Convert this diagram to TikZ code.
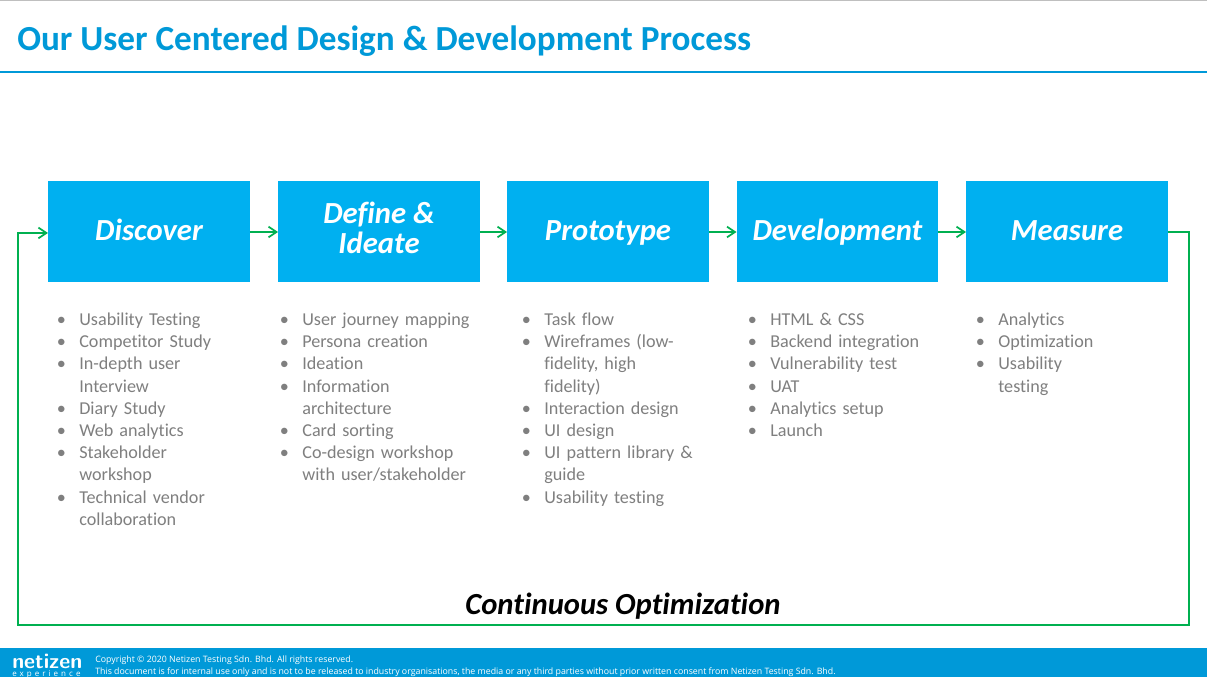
\documentclass[tikz,border=0pt]{standalone}
\usepackage{fontspec}
\setmainfont[Ligatures=NoCommon]{Carlito}
\newfontfamily\handfont[Ligatures=NoCommon]{Carlito}
\newfontfamily\smallfont{Open Sans}
\newfontfamily\spacedfont[LetterSpace=38]{Open Sans}
\usetikzlibrary{arrows.meta}
\definecolor{titleblue}{HTML}{0099D8}
\definecolor{boxblue}{HTML}{00B0F0}
\definecolor{loopgreen}{HTML}{00B050}
\definecolor{listgrey}{HTML}{7F7F7F}
\newcommand{\phasestrut}{\rule[-5.2pt]{0pt}{23.2pt}}
\newenvironment{steplist}{\begin{list}{\textbullet}{\setlength{\leftmargin}{17pt}\setlength{\labelwidth}{7pt}\setlength{\labelsep}{10pt}\setlength{\itemsep}{0pt}\setlength{\parsep}{0pt}\setlength{\topsep}{0pt}\setlength{\partopsep}{0pt}}\raggedright}{\end{list}}
\tikzset{
  phase/.style={fill=boxblue,text=white,minimum width=151pt,minimum height=75.75pt,inner sep=0pt,align=center,
    execute at begin node=\phasestrut,execute at end node=\phasestrut,
    font=\handfont\itshape\bfseries\fontsize{23}{22.5}\selectfont},
  link/.style={draw=loopgreen,line width=1.3pt,-{Straight Barb[length=6pt,width=8pt]}},
  bullets/.style={anchor=north west,inner sep=0pt,text=listgrey,text width=170pt,font=\fontsize{13.6}{16.65}\selectfont},
}
\begin{document}
\begin{tikzpicture}[x=0.75pt,y=-0.75pt]
\useasboundingbox (0,0) rectangle (1207,677);
\fill[white] (0,0) rectangle (1207,677);
\fill[black!25] (0,0) rectangle (1207,1);
% title
\node[anchor=base west,inner sep=0pt,text=titleblue,font=\bfseries\fontsize{26.4}{30}\selectfont] (title) at (17,51) {Our User Centered Design \& Development Process};
\fill[titleblue] (0,71) rectangle (1207,73);
% phases
\node[phase] (discover) at (149,231.5) {Discover};
\node[phase] (ideate) at (379,231.5) {Define \&\\Ideate};
\node[phase] (prototype) at (608,231.5) {Prototype};
\node[phase] (development) at (837.5,231.5) {Development};
\node[phase] (measure) at (1067,231.5) {Measure};
\foreach \a/\b in {discover/ideate,ideate/prototype,prototype/development,development/measure}
  \draw[link] ([yshift=-0.375pt]\a.east) -- ([yshift=-0.375pt]\b.west);
% loop back
\coordinate (loopa) at (1189,232);
\coordinate (loopb) at (1189,625);
\coordinate (loopc) at (18,625);
\coordinate (loopd) at (18,233);
\coordinate (loope) at (48,233);
\draw[link] ([yshift=-0.375pt]measure.east) -- (loopa) -- (loopb) -- (loopc) -- (loopd) -- (loope);
\node[inner sep=0pt,font=\handfont\itshape\bfseries\fontsize{23}{26}\selectfont] (continuous) at (623,606) {Continuous Optimization};
% lists
\node[bullets] (listone) at (56.4,303) {\begin{steplist}
  \item Usability Testing
  \item Competitor Study
  \item In-depth user\newline Interview
  \item Diary Study
  \item Web analytics
  \item Stakeholder\newline workshop
  \item Technical vendor\newline collaboration
\end{steplist}};
\node[bullets] (listtwo) at (279.4,303) {\begin{steplist}
  \item User journey mapping
  \item Persona creation
  \item Ideation
  \item Information\newline architecture
  \item Card sorting
  \item Co-design workshop\newline with user/stakeholder
\end{steplist}};
\node[bullets] (listthree) at (521.4,303) {\begin{steplist}
  \item Task flow
  \item Wireframes (low-\newline fidelity, high\newline fidelity)
  \item Interaction design
  \item UI design
  \item UI pattern library \&\newline guide
  \item Usability testing
\end{steplist}};
\node[bullets] (listfour) at (747.4,303) {\begin{steplist}
  \item HTML \& CSS
  \item Backend integration
  \item Vulnerability test
  \item UAT
  \item Analytics setup
  \item Launch
\end{steplist}};
\node[bullets] (listfive) at (975.4,303) {\begin{steplist}
  \item Analytics
  \item Optimization
  \item Usability\newline testing
\end{steplist}};
% footer
\fill[titleblue] (0,648) rectangle (1207,677);
\node[anchor=base west,inner sep=0pt,text=white,font=\bfseries\sffamily\fontsize{16}{16}\selectfont] (logo) at (12,668.5) {netizen};
\node[anchor=base west,inner sep=0pt,text=white,font=\spacedfont\fontsize{6}{7}\selectfont] (expr) at (12,676.5) {experience};
\node[anchor=west,inner sep=0pt,text=white,font=\smallfont\fontsize{6.6}{7}\selectfont] (copy) at (95,660) {Copyright © 2020 Netizen Testing Sdn. Bhd. All rights reserved.};
\node[anchor=west,inner sep=0pt,text=white,font=\smallfont\fontsize{6.6}{7}\selectfont] (notice) at (95,672.5) {This document is for internal use only and is not to be released to industry organisations, the media or any third parties without prior written consent from Netizen Testing Sdn. Bhd.};
\end{tikzpicture}
\end{document}
